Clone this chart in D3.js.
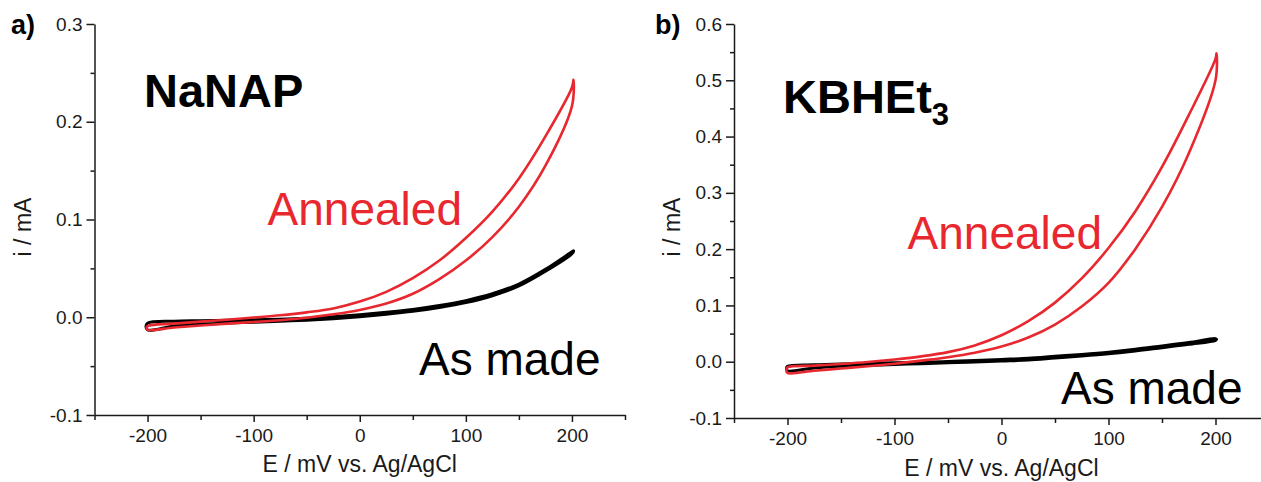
<!DOCTYPE html>
<html>
<head>
<meta charset="utf-8">
<style>
  body { margin: 0; background: #fff; }
  svg { display: block; font-family: Arial, "Liberation Sans", sans-serif; }
  .axis .domain, .axis line { stroke: #1a1a1a; stroke-width: 1.5px; }
  .axis text { font-size: 19px; fill: #1a1a1a; font-family: Arial, "Liberation Sans", sans-serif; }
  .title { font-size: 23px; fill: #1a1a1a; }
  .panel-tag { font-size: 27px; font-weight: bold; }
  .sample { font-size: 47px; font-weight: bold; }
  .curve-label { font-size: 46px; }
</style>
</head>
<body>
<svg width="1261" height="482"></svg>

<script src="https://d3js.org/d3.v7.min.js"></script>
<script>
  // potential grid shared by every sweep (mV)
  const potential = [-200, -175, -150, -125, -100, -75, -50, -25, 0, 25, 50, 75, 100, 125, 150, 175, 200];

  // panel a) NaNAP, current in mA
  const aAnnealedLow = [-0.013, -0.0105, -0.0085, -0.0065, -0.0048, -0.003, -0.0005, 0.003, 0.0075, 0.014, 0.024, 0.039, 0.058, 0.082, 0.113, 0.155, 0.216];
  const aAnnealedHigh = [-0.009, -0.0065, -0.0045, -0.0025, -0.0003, 0.002, 0.005, 0.009, 0.016, 0.026, 0.040, 0.058, 0.081, 0.108, 0.142, 0.185, 0.235];
  const aAnnealedEnds = [[-201, -0.011], [201.5, 0.243]];
  const aMadeLow = [-0.013, -0.009, -0.007, -0.006, -0.005, -0.004, -0.003, -0.0015, 0.0005, 0.003, 0.006, 0.010, 0.015, 0.022, 0.032, 0.047, 0.065];
  const aMadeHigh = [-0.006, -0.004, -0.0035, -0.003, -0.0025, -0.002, -0.001, 0.0005, 0.0025, 0.005, 0.008, 0.012, 0.017, 0.024, 0.034, 0.049, 0.067];
  const aMadeEnds = [[-201.5, -0.0095], [201.5, 0.068]];

  // panel b) KBHEt3
  const bAnnealedLow = [-0.020, -0.016, -0.012, -0.008, -0.0035, 0.002, 0.008, 0.016, 0.027, 0.043, 0.066, 0.098, 0.140, 0.200, 0.275, 0.370, 0.500];
  const bAnnealedHigh = [-0.010, -0.007, -0.004, -0.0005, 0.004, 0.0095, 0.017, 0.029, 0.047, 0.072, 0.105, 0.148, 0.202, 0.267, 0.346, 0.438, 0.538];
  const bAnnealedEnds = [[-201, -0.015], [201, 0.548]];
  const bMadeLow = [-0.016, -0.011, -0.008, -0.0065, -0.005, -0.0035, -0.002, -0.0005, 0.0012, 0.003, 0.0065, 0.010, 0.014, 0.019, 0.025, 0.031, 0.038];
  const bMadeHigh = [-0.008, -0.0055, -0.004, -0.003, -0.002, -0.001, 0.0005, 0.002, 0.004, 0.006, 0.0095, 0.013, 0.017, 0.022, 0.028, 0.034, 0.041];
  const bMadeEnds = [[-201, -0.012], [201, 0.040]];

  // axis ticks
  const xTicks = [-200, -100, 0, 100, 200];
  const xMinor = [-250, -150, -50, 50, 150, 250];
  const aYTicks = [-0.1, 0.0, 0.1, 0.2, 0.3];
  const aYMinor = [-0.05, 0.05, 0.15, 0.25];
  const bYTicks = [-0.1, 0.0, 0.1, 0.2, 0.3, 0.4, 0.5, 0.6];
  const bYMinor = [-0.05, 0.05, 0.15, 0.25, 0.35, 0.45, 0.55];

  const red = "#e8282e";
  const svg = d3.select("svg");

  // build a closed CV loop: left turn, low branch out, right turn, high branch back
  function loop(low, high, ends) {
    let pts = [ends[0]];
    potential.forEach((e, k) => pts.push([e, low[k]]));
    pts.push(ends[1]);
    for (let k = potential.length - 1; k >= 0; k--) pts.push([potential[k], high[k]]);
    return pts;
  }

  function panel(opt) {
    let x = d3.scaleLinear().domain([-250, 250]).range(opt.xRange);
    let y = d3.scaleLinear().domain(opt.yDomain).range(opt.yRange);
    let g = svg.append("g");

    // minor ticks first, then the major axis on top
    g.append("g")
      .attr("class", "axis")
      .attr("transform", `translate(0,${opt.yRange[0]})`)
      .call(d3.axisBottom(x).tickValues(xMinor).tickSize(5).tickFormat(""))
      .call(a => a.select(".domain").remove());

    g.append("g")
      .attr("class", "axis")
      .attr("transform", `translate(0,${opt.yRange[0]})`)
      .call(d3.axisBottom(x).tickValues(xTicks).tickSize(7).tickSizeOuter(0).tickPadding(7).tickFormat(d => String(d)));

    g.append("g")
      .attr("class", "axis")
      .attr("transform", `translate(${opt.xRange[0]},0)`)
      .call(d3.axisLeft(y).tickValues(opt.yMinor).tickSize(4).tickFormat(""))
      .call(a => a.select(".domain").remove());

    g.append("g")
      .attr("class", "axis")
      .attr("transform", `translate(${opt.xRange[0]},0)`)
      .call(d3.axisLeft(y).tickValues(opt.yTicks).tickSize(8).tickSizeOuter(0).tickPadding(4).tickFormat(d => d.toFixed(1)));

    let line = d3.line()
      .x(d => x(d[0]))
      .y(d => y(d[1]))
      .curve(d3.curveCatmullRomClosed.alpha(0.5));

    g.append("path")
      .attr("d", line(opt.made))
      .style("fill", "none")
      .style("stroke", "#000")
      .style("stroke-width", "3px")
      .style("stroke-linejoin", "round");

    g.append("path")
      .attr("d", line(opt.annealed))
      .style("fill", "none")
      .style("stroke", red)
      .style("stroke-width", "2.6px")
      .style("stroke-linejoin", "round");

    // axis titles
    g.append("text")
      .attr("class", "title")
      .attr("text-anchor", "middle")
      .attr("x", x(0))
      .attr("y", opt.xTitleY)
      .text("E / mV vs. Ag/AgCl");

    g.append("text")
      .attr("class", "title")
      .attr("text-anchor", "middle")
      .attr("transform", `translate(${opt.yTitleX},227) rotate(-90)`)
      .text("i / mA");

    g.append("text")
      .attr("class", "panel-tag")
      .attr("x", opt.tagX)
      .attr("y", 34)
      .text(opt.tag);

    g.append("text")
      .attr("class", "curve-label")
      .attr("text-anchor", "end")
      .attr("x", opt.annealedAt[0])
      .attr("y", opt.annealedAt[1])
      .style("fill", red)
      .text("Annealed");

    g.append("text")
      .attr("class", "curve-label")
      .attr("x", opt.madeAt[0])
      .attr("y", opt.madeAt[1])
      .style("fill", "#000")
      .text("As made");

    return g;
  }

  let pa = panel({
    xRange: [94.5, 625], yRange: [415, 24], yDomain: [-0.1, 0.3],
    yTicks: aYTicks, yMinor: aYMinor,
    made: loop(aMadeLow, aMadeHigh, aMadeEnds),
    annealed: loop(aAnnealedLow, aAnnealedHigh, aAnnealedEnds),
    xTitleY: 472, yTitleX: 31, tag: "a)", tagX: 11,
    annealedAt: [462, 225], madeAt: [419, 375]
  });

  pa.append("text")
    .attr("class", "sample")
    .attr("x", 144)
    .attr("y", 107)
    .text("NaNAP");

  let pb = panel({
    xRange: [734, 1269], yRange: [418, 24], yDomain: [-0.1, 0.6],
    yTicks: bYTicks, yMinor: bYMinor,
    made: loop(bMadeLow, bMadeHigh, bMadeEnds),
    annealed: loop(bAnnealedLow, bAnnealedHigh, bAnnealedEnds),
    xTitleY: 476, yTitleX: 680, tag: "b)", tagX: 655,
    annealedAt: [1102, 249], madeAt: [1061, 404]
  });

  let kb = pb.append("text")
    .attr("class", "sample")
    .attr("x", 783)
    .attr("y", 113)
    .text("KBHEt");
  kb.append("tspan")
    .attr("dy", 12)
    .style("font-size", "31px")
    .text("3");
</script>
</body>
</html>
